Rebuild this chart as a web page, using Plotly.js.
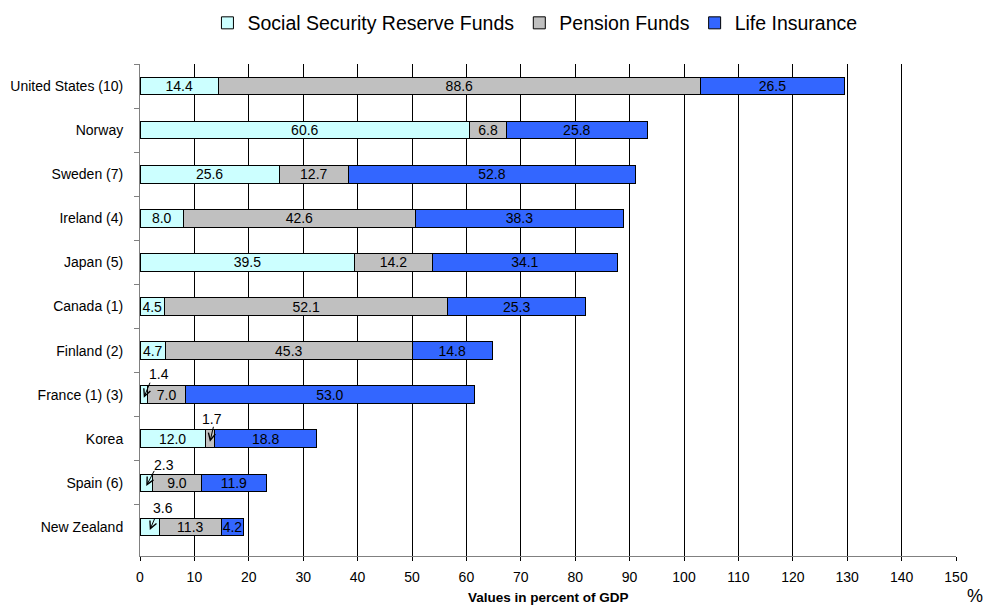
<!DOCTYPE html>
<html>
<head>
<meta charset="utf-8">
<script src="https://cdn.plot.ly/plotly-3.0.1.min.js"></script>
<style>html,body{margin:0;padding:0;background:#fff;}#chart{width:983px;height:607px;}</style>
</head>
<body>
<div id="chart"></div>
<script>
const countries = ["United States (10)", "Norway", "Sweden (7)", "Ireland (4)", "Japan (5)", "Canada (1)", "Finland (2)", "France (1) (3)", "Korea", "Spain (6)", "New Zealand"];
const socialSecurity = [14.4, 60.6, 25.6, 8.0, 39.5, 4.5, 4.7, 1.4, 12.0, 2.3, 3.6];
const pensionFunds   = [88.6, 6.8, 12.7, 42.6, 14.2, 52.1, 45.3, 7.0, 1.7, 9.0, 11.3];
const lifeInsurance  = [26.5, 25.8, 52.8, 38.3, 34.1, 25.3, 14.8, 53.0, 18.8, 11.9, 4.2];
const seriesNames = ["Social Security Reserve Funds", "Pension Funds", "Life Insurance"];
const seriesColors = ["#CCFFFF", "#C0C0C0", "#3366FF"];
const xTicks = [0, 10, 20, 30, 40, 50, 60, 70, 80, 90, 100, 110, 120, 130, 140, 150];

const FONT = "Arial, 'Liberation Sans', sans-serif";
const SMALL = 4; // segments narrower than this get an arrow callout

const series = [socialSecurity, pensionFunds, lifeInsurance];
const traces = series.map((vals, i) => ({
  type: "bar",
  orientation: "h",
  name: seriesNames[i],
  y: countries,
  x: vals,
  text: vals.map(v => v < SMALL ? "" : v.toFixed(1)),
  textposition: "inside",
  insidetextanchor: "middle",
  textangle: 0,
  constraintext: "none",
  textfont: {family: FONT, size: 14, color: "#000"},
  marker: {color: seriesColors[i], line: {color: "#000", width: 1}},
  hoverinfo: "skip"
}));

// callout offsets (pixels): [tail dx, tail dy, text dx, text dy] relative to arrow head
const calloutOffsets = {
  "France (1) (3)": [7, -17, 15, -24],
  "Korea": [4, -17, 2, -23],
  "Spain (6)": [9, -17, 18, -21],
  "New Zealand": [6, -14, 13, -22]
};
const HEAD_DY = 3;
const callouts = [];
countries.forEach((c, k) => {
  let start = 0;
  series.forEach((vals) => {
    const v = vals[k];
    if (v < SMALL) {
      const o = calloutOffsets[c] || [6, -16, 14, -22];
      callouts.push({
        x: start + v / 2, y: c, xref: "x", yref: "y", yshift: -HEAD_DY,
        text: " ", font: {size: 1}, showarrow: true, arrowhead: 5, arrowsize: 1.4, arrowwidth: 1,
        arrowcolor: "#000", ax: o[0], ay: o[1], standoff: 0, startstandoff: 0
      });
      callouts.push({
        x: start + v / 2, y: c, xref: "x", yref: "y",
        xshift: o[2], yshift: -(HEAD_DY + o[3]), xanchor: "center", yanchor: "middle",
        text: v.toFixed(1), showarrow: false,
        font: {family: FONT, size: 14, color: "#000"}
      });
    }
    start += v;
  });
});

callouts.push({
  x: 0.5, y: -0.085, xref: "paper", yref: "paper", xanchor: "center", yanchor: "middle",
  text: "<b>Values in percent of GDP</b>", showarrow: false,
  font: {family: FONT, size: 13.5, color: "#000"}
});
callouts.push({
  x: 1.0235, y: -0.081, xref: "paper", yref: "paper", xanchor: "center", yanchor: "middle",
  text: "%", showarrow: false,
  font: {family: FONT, size: 18, color: "#000"}
});

const layout = {
  width: 983, height: 607,
  margin: {l: 140, r: 27, t: 64, b: 51, autoexpand: false},
  paper_bgcolor: "#fff", plot_bgcolor: "#fff",
  barmode: "stack",
  bargap: 0.6,
  font: {family: FONT, size: 14, color: "#000"},
  showlegend: true,
  legend: {
    orientation: "h", x: 0.484, xanchor: "center", y: 1.083, yanchor: "middle",
    font: {family: FONT, size: 19.5, color: "#000"},
    traceorder: "normal", bgcolor: "rgba(0,0,0,0)"
  },
  xaxis: {
    range: [0, 150], tickvals: xTicks, ticktext: xTicks.map(String),
    showgrid: true, gridcolor: "#000", gridwidth: 1, zeroline: false,
    showline: true, linecolor: "#808080", linewidth: 1,
    ticks: "outside", ticklen: 4, tickcolor: "#000", ticklabelstandoff: 4,
    tickfont: {family: FONT, size: 14, color: "#000"}, fixedrange: true
  },
  yaxis: {
    type: "category", autorange: "reversed",
    tickson: "boundaries", ticks: "outside", ticklen: 5, tickcolor: "#808080",
    showline: true, linecolor: "#808080", linewidth: 1, showgrid: false, zeroline: false,
    tickfont: {family: FONT, size: 14, color: "#000"}, ticklabelstandoff: 13, fixedrange: true
  },
  annotations: callouts
};

Plotly.newPlot("chart", traces, layout, {displayModeBar: false, staticPlot: true});
</script>
</body>
</html>
